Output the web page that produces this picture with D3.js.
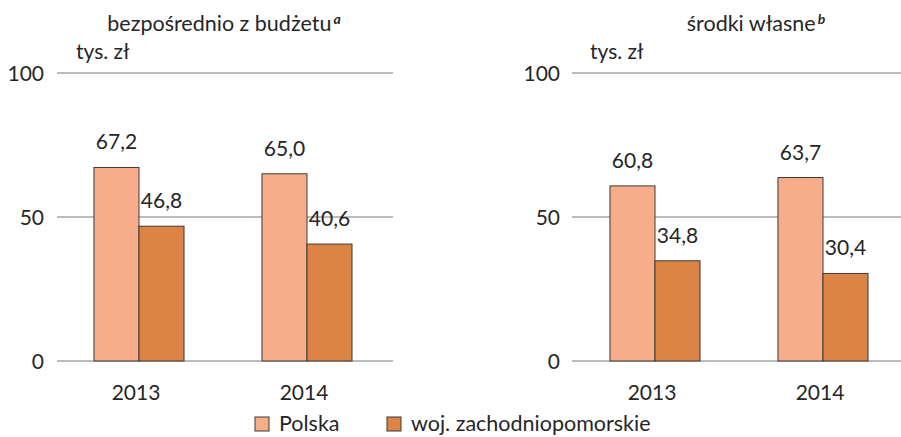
<!DOCTYPE html>
<html>
<head>
<meta charset="utf-8">
<script src="https://cdn.jsdelivr.net/npm/d3@7"></script>
<style>
  body { margin: 0; background: #fff; }
  svg text { font-family: Lato, "Open Sans", sans-serif; fill: #262626; }
</style>
</head>
<body>
<svg id="chart" width="901" height="437"></svg>
<script>
// data
var years = ['2013', '2014'];
var series = ['Polska', 'woj. zachodniopomorskie'];
var budzet = [[67.2, 46.8], [65.0, 40.6]];   // [year][series]
var wlasne = [[60.8, 34.8], [63.7, 30.4]];
var yTicks = [0, 50, 100];
var titles = ['bezpośrednio z budżetu', 'środki własne'];
var notes = ['a', 'b'];
var colors = ['#f7ad8a', '#dc8446'];

var svg = d3.select('#chart');

var y = d3.scaleLinear().domain([0, 100]).range([361, 73]);

var panels = [
	{ data: budzet, x0: 55, grid: [57, 393], tickX: 44, unitX: 76, titleX: 224 },
	{ data: wlasne, x0: 571, grid: [572, 901], tickX: 560, unitX: 590, titleX: 756 }
];

panels.forEach(function(p, k) {
	var g = svg.append('g');

	var x = d3.scaleBand().domain(years)
		.range([p.x0, p.x0 + 336])
		.paddingInner(0.464).paddingOuter(0.232);
	var xs = d3.scaleBand().domain(series).range([0, x.bandwidth()]);

	// gridlines
	g.selectAll('line.grid').data(yTicks).enter().append('line')
		.attr('x1', p.grid[0]).attr('x2', p.grid[1])
		.attr('y1', function(d){ return y(d); })
		.attr('y2', function(d){ return y(d); })
		.attr('stroke', '#a6a6a6').attr('stroke-width', 1.5);

	// tick labels
	g.selectAll('text.tick').data(yTicks).enter().append('text')
		.attr('x', p.tickX)
		.attr('y', function(d){ return y(d); })
		.attr('dy', '0.36em')
		.attr('text-anchor', 'end')
		.style('font-size', '21px')
		.text(function(d){ return d; });

	// bars
	var grp = g.selectAll('g.year').data(years).enter().append('g')
		.attr('transform', function(d){ return 'translate(' + x(d) + ',0)'; });

	grp.selectAll('rect').data(function(d, i){ return p.data[i]; }).enter().append('rect')
		.attr('x', function(d, j){ return xs(series[j]); })
		.attr('y', function(d){ return y(d); })
		.attr('width', xs.bandwidth())
		.attr('height', function(d){ return y(0) - y(d); })
		.attr('fill', function(d, j){ return colors[j]; })
		.attr('stroke', '#3a3a3a').attr('stroke-width', 1);

	grp.selectAll('text').data(function(d, i){ return p.data[i]; }).enter().append('text')
		.attr('x', function(d, j){ return xs(series[j]) + xs.bandwidth() / 2; })
		.attr('y', function(d){ return y(d) - 18; })
		.attr('text-anchor', 'middle')
		.style('font-size', '21px')
		.text(function(d){ return d3.format('.1f')(d).replace('.', ','); });

	// x labels
	g.selectAll('text.year').data(years).enter().append('text')
		.attr('x', function(d){ return x(d) + x.bandwidth() / 2 - 3; })
		.attr('y', 400)
		.attr('text-anchor', 'middle')
		.style('font-size', '21px')
		.text(function(d){ return d; });

	// title
	var t = g.append('text')
		.attr('x', p.titleX).attr('y', 31)
		.attr('text-anchor', 'middle')
		.style('font-size', '21.5px')
		.text(titles[k]);
	t.append('tspan')
		.attr('dy', -7).attr('dx', 2)
		.style('font-size', '14px').style('font-style', 'italic').style('font-weight', 'bold')
		.text(notes[k]);

	g.append('text')
		.attr('x', p.unitX).attr('y', 59)
		.style('font-size', '21px')
		.text('tys. zł');
});

// legend
var legendX = [255, 387];
var lg = svg.selectAll('g.legend').data(series).enter().append('g')
	.attr('transform', function(d, i){ return 'translate(' + legendX[i] + ',417)'; });
lg.append('rect')
	.attr('width', 14).attr('height', 14)
	.attr('fill', function(d, i){ return colors[i]; })
	.attr('stroke', '#3a3a3a').attr('stroke-width', 1);
lg.append('text')
	.attr('x', 24).attr('y', 14)
	.style('font-size', '21.5px')
	.text(function(d){ return d; });
</script>
</body>
</html>
